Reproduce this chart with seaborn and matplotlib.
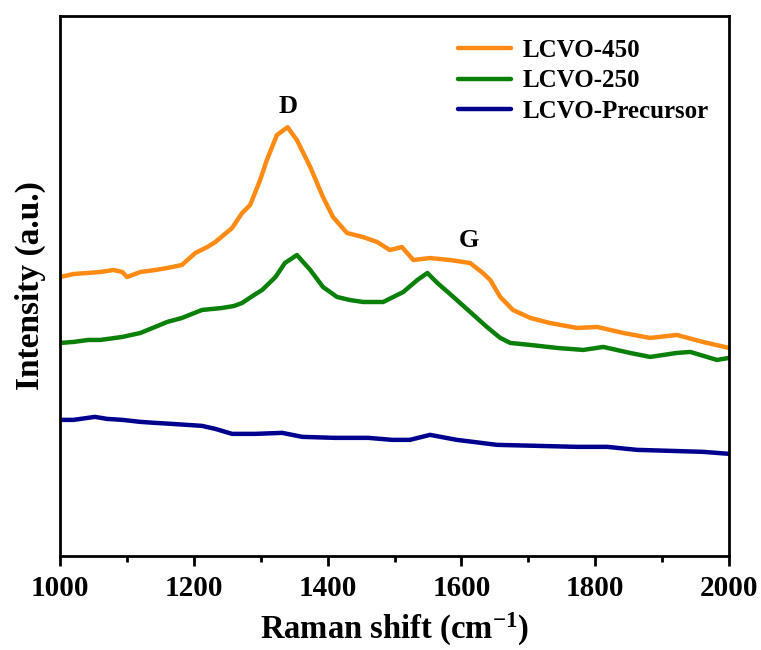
import numpy as np
import pandas as pd
import matplotlib
matplotlib.use("Agg")
import matplotlib.pyplot as plt
import seaborn as sns
from matplotlib.ticker import MultipleLocator

# Valeurs (intensité en unités arbitraires)
x_450 = [1000, 1020, 1040, 1060, 1080, 1093, 1100, 1120, 1142, 1160, 1182, 1202,
         1220, 1232, 1257, 1272, 1284, 1299, 1309, 1324, 1340, 1354, 1374, 1393,
         1408, 1429, 1453, 1474, 1493, 1511, 1528, 1553, 1583, 1613, 1632, 1643,
         1658, 1677, 1703, 1732, 1773, 1803, 1842, 1882, 1922, 1961, 2000]
y_450 = [279, 282, 283, 284, 286, 284, 279, 284, 286, 288, 291, 303,
         309, 314, 328, 343, 351, 376, 396, 421, 429, 416, 389, 359,
         339, 323, 319, 314, 306, 309, 296, 298, 296, 293, 283, 276,
         259, 246, 238, 233, 228, 229, 223, 218, 221, 214, 208]

x_250 = [1000, 1020, 1042, 1060, 1093, 1120, 1142, 1160, 1182, 1212, 1242, 1260,
         1272, 1290, 1302, 1322, 1336, 1354, 1374, 1393, 1414, 1433, 1453, 1483,
         1513, 1534, 1549, 1564, 1588, 1613, 1638, 1658, 1673, 1703, 1743, 1782,
         1812, 1852, 1882, 1922, 1942, 1982, 2000]
y_250 = [213, 214, 216, 216, 219, 223, 229, 234, 238, 246, 248, 250,
         253, 261, 266, 279, 293, 301, 286, 269, 259, 256, 254, 254,
         264, 276, 283, 273, 259, 244, 229, 218, 213, 211, 208, 206,
         209, 203, 199, 203, 204, 196, 198]

x_pre = [1000, 1020, 1052, 1070, 1093, 1120, 1142, 1167, 1212, 1232, 1257, 1292,
         1332, 1362, 1411, 1461, 1496, 1523, 1553, 1593, 1653, 1713, 1773, 1818,
         1862, 1912, 1961, 2000]
y_pre = [136, 136, 139, 137, 136, 134, 133, 132, 130, 127, 122, 122,
         123, 119, 118, 118, 116, 116, 121, 116, 111, 110, 109, 109,
         106, 105, 104, 102]

noms = ["LCVO-450", "LCVO-250", "LCVO-Precursor"]
couleurs = ["#FF8A14", "#0A800A", "#00008F"]

df = pd.concat([
    pd.DataFrame({"x": x_450, "y": y_450, "echantillon": noms[0]}),
    pd.DataFrame({"x": x_250, "y": y_250, "echantillon": noms[1]}),
    pd.DataFrame({"x": x_pre, "y": y_pre, "echantillon": noms[2]}),
])

sns.set_theme(style="ticks")
plt.rcParams['font.family'] = ['Liberation Serif', 'DejaVu Serif']
plt.rcParams['font.weight'] = 'bold'
plt.rcParams['text.color'] = 'black'
plt.rcParams['axes.labelcolor'] = 'black'
plt.rcParams['xtick.color'] = 'black'
plt.rcParams['mathtext.fontset'] = 'custom'
plt.rcParams['mathtext.rm'] = 'Liberation Serif:bold'
plt.rcParams['mathtext.bf'] = 'Liberation Serif:bold'
plt.rcParams['mathtext.default'] = 'rm'

fig = plt.figure(figsize=(7.61, 6.5), dpi=100)
ax = fig.add_axes([0.079, 0.145, 0.879, 0.830])

sns.lineplot(data=df, x="x", y="y", hue="echantillon", hue_order=noms,
             palette=couleurs, linewidth=3.2, ax=ax, sort=False)

ax.set_xlim(1000, 2000)
ax.set_ylim(0, 540)
ax.xaxis.set_major_locator(MultipleLocator(200))
ax.xaxis.set_minor_locator(MultipleLocator(100))
ax.set_yticks([])
for s in ax.spines.values():
    s.set_linewidth(2.0)
    s.set_color('black')
ax.tick_params(axis='x', which='major', direction='out', length=7, width=2,
               labelsize=21, pad=7, color='black', labelcolor='black')
ax.tick_params(axis='x', which='minor', direction='out', length=4, width=2,
               color='black')
for lab in ax.get_xticklabels():
    lab.set_fontweight('bold')

ax.set_xlabel("Raman shift (cm$^{\\mathrm{-1}}$)", fontsize=23.5, fontweight='bold', labelpad=6)
ax.set_ylabel("Intensity (a.u.)", fontsize=24, fontweight='bold', labelpad=10)

ax.text(1341, 450, "D", fontsize=19, fontweight='bold', ha='center', va='center')
ax.text(1611, 316, "G", fontsize=19, fontweight='bold', ha='center', va='center')

leg = ax.legend(loc='upper right', bbox_to_anchor=(1.004, 1.0), frameon=False,
                prop={'size': 18, 'weight': 'bold'}, handlelength=2.1,
                handletextpad=0.5, labelspacing=0.3)
for l in leg.get_lines():
    l.set_linewidth(3.2)

fig.savefig("out.png", dpi=100)
